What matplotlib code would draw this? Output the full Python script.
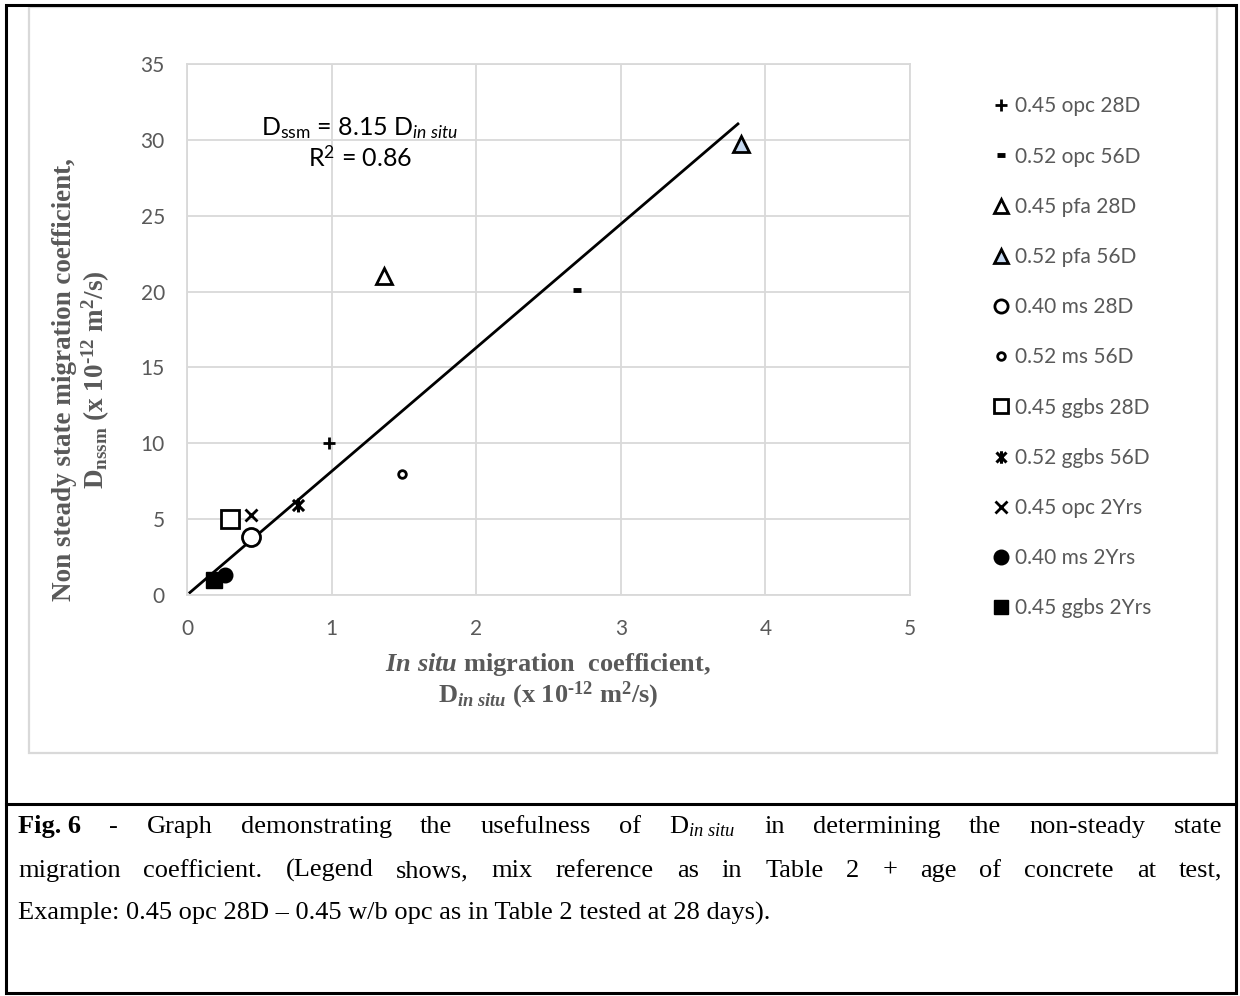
import matplotlib
matplotlib.use('Agg')
import matplotlib.pyplot as plt
import numpy as np
from matplotlib.lines import Line2D
from matplotlib.path import Path
from matplotlib.patches import Rectangle

# mathtext slots: serif bold for axis labels, Lato for the equation box
plt.rcParams['mathtext.fontset'] = 'custom'
plt.rcParams['mathtext.rm'] = 'Liberation Serif:bold'
plt.rcParams['mathtext.it'] = 'Liberation Serif:italic:bold'
plt.rcParams['mathtext.bf'] = 'Liberation Serif:italic'   # caption subscript
plt.rcParams['mathtext.sf'] = 'Lato'
plt.rcParams['mathtext.tt'] = 'Lato:italic'

# data
mixes = ['0.45 opc 28D', '0.52 opc 56D', '0.45 pfa 28D', '0.52 pfa 56D',
         '0.40 ms 28D', '0.52 ms 56D', '0.45 ggbs 28D', '0.52 ggbs 56D',
         '0.45 opc 2Yrs', '0.40 ms 2Yrs', '0.45 ggbs 2Yrs']
d_insitu = [0.98, 2.70, 1.36, 3.83, 0.44, 1.49, 0.30, 0.77, 0.44, 0.26, 0.19]
d_nssm = [10.0, 20.1, 21.0, 29.7, 3.8, 8.0, 5.0, 5.9, 5.3, 1.3, 1.0]
slope = 8.15
r_squared = 0.86
trend_range = [0.02, 3.81]

W, H = 1240, 996
grey = '#595959'
grid_c = '#d9d9d9'

star = Path([(-1, -1), (1, 1), (-1, 1), (1, -1), (0, -1.25), (0, 1.25)],
            [Path.MOVETO, Path.LINETO] * 3)

# marker, plot size, legend size, face colour, edge width
styles = [
    ('+', 9, 9, 'none', 2.0),
    ('_', 6, 6, 'none', 3.5),
    ('^', 11, 10, 'white', 2.0),
    ('^', 11, 10, '#c6d9f1', 2.0),
    ('o', 13, 9.5, 'white', 2.0),
    ('o', 5.5, 5.5, 'white', 2.0),
    ('s', 12.5, 10, 'white', 2.0),
    (star, 10, 9, 'none', 2.2),
    ('x', 8.5, 8.5, 'none', 2.0),
    ('o', 10.5, 10.5, 'black', 1.0),
    ('s', 12, 10, 'black', 1.0),
]

fig = plt.figure(figsize=(W / 100, H / 100), dpi=100)
ax = fig.add_axes([187 / W, 1 - 595 / H, 723 / W, 531 / H])

xs = np.array(trend_range)
ax.plot(xs, slope * xs, color='black', lw=2, zorder=2)

handles = []
for i, (m, ms, lms, fc, mew) in enumerate(styles):
    ax.plot(d_insitu[i], d_nssm[i], ls='none', marker=m, ms=ms, mfc=fc,
            mec='black', mew=mew, zorder=3)
    handles.append(Line2D([], [], ls='none', marker=m, ms=lms, mfc=fc,
                          mec='black', mew=mew))

ax.set_xlim(0, 5)
ax.set_ylim(0, 35)
ax.set_xticks(range(0, 6))
ax.set_yticks(range(0, 36, 5))
ax.grid(True, color=grid_c, lw=1.3)
ax.set_axisbelow(True)
for s in ax.spines.values():
    s.set_color(grid_c)
    s.set_linewidth(1.3)
ax.tick_params(length=0, labelsize=15, labelcolor=grey)
ax.tick_params(axis='x', pad=17)
ax.tick_params(axis='y', pad=16)
for lab in ax.get_xticklabels() + ax.get_yticklabels():
    lab.set_family('Lato')

# regression equation
ax.text(0.239, 0.879, r'D$_{\mathsf{ssm}}$ = %.2f D$_{\mathtt{in\ situ}}$' % slope,
        transform=ax.transAxes, ha='center', va='center', fontsize=18,
        family='Lato', color='black')
ax.text(0.239, 0.823, r'R$^{\mathsf{2}}$ = %.2f' % r_squared,
        transform=ax.transAxes, ha='center', va='center', fontsize=18,
        family='Lato', color='black')

# axis titles
fig.text(82 / W, 1 - 380 / H,
         'Non steady state migration coefficient,\n'
         'D$_{\\mathrm{nssm}}$ (x 10$^{\\mathrm{\u201012}}$ m$^{\\mathrm{2}}$/s)',
         rotation=90, ha='center', va='center', multialignment='center',
         fontsize=19.5, family='Liberation Serif', weight='bold', color=grey,
         linespacing=1.1)
fig.text(548 / W, 1 - 681 / H,
         '$\\mathit{In\\ situ}$ migration  coefficient,\n'
         'D$_{\\mathit{in\\ situ}}$ (x 10$^{\\mathrm{\u201012}}$ m$^{\\mathrm{2}}$/s)',
         ha='center', va='center', multialignment='center',
         fontsize=19, family='Liberation Serif', weight='bold', color=grey,
         linespacing=1.1)

fig.legend(handles, mixes, loc='upper left', bbox_to_anchor=(980 / W, 1 - 86 / H),
           frameon=False, borderpad=0, handlelength=1.0, handletextpad=0.2,
           labelspacing=1.45, prop={'family': 'Lato', 'size': 15},
           labelcolor=grey)

# frames
fig.add_artist(Rectangle((29 / W, 1 - 753 / H), (1217 - 29) / W, (753 - 7) / H,
                         transform=fig.transFigure, fill=False, ec=grid_c, lw=1.6))
fig.add_artist(Rectangle((6 / W, 1 - 993 / H), (1236 - 6) / W, (993 - 5) / H,
                         transform=fig.transFigure, fill=False, ec='black', lw=2.2))
fig.add_artist(Line2D([6 / W, 1236 / W], [1 - 804 / H, 1 - 804 / H],
                      transform=fig.transFigure, color='black', lw=2.2))

# caption, first two lines justified
cap_size = 19
line1 = [('Fig. 6', 'bold'), ('-', 'normal'), ('Graph', 'normal'),
         ('demonstrating', 'normal'), ('the', 'normal'), ('usefulness', 'normal'),
         ('of', 'normal'), (r'D$_{\mathbf{in\ situ}}$', 'normal'), ('in', 'normal'),
         ('determining', 'normal'), ('the', 'normal'), ('non-steady', 'normal'),
         ('state', 'normal')]
line2 = [(w, 'normal') for w in
         'migration coefficient. (Legend shows, mix reference as in Table 2 + age of concrete at test,'.split(' ')]
line3 = 'Example: 0.45 opc 28D \u2013 0.45 w/b opc as in Table 2 tested at 28 days).'

left, right = 18, 1222


def justify(tokens, y):
    texts = [fig.text(left / W, 1 - y / H, w, ha='left', va='baseline',
                      fontsize=cap_size, family='Liberation Serif', weight=wt)
             for w, wt in tokens]
    fig.canvas.draw()
    r = fig.canvas.get_renderer()
    widths = [t.get_window_extent(r).width for t in texts]
    gap = (right - left - sum(widths)) / (len(texts) - 1)
    x = left
    for t, w in zip(texts, widths):
        t.set_x(x / W)
        x += w + gap


justify(line1, 833)
justify(line2, 877)
fig.text(left / W, 1 - 920 / H, line3, ha='left', va='baseline',
         fontsize=cap_size, family='Liberation Serif')

fig.savefig('out.png', dpi=100)
